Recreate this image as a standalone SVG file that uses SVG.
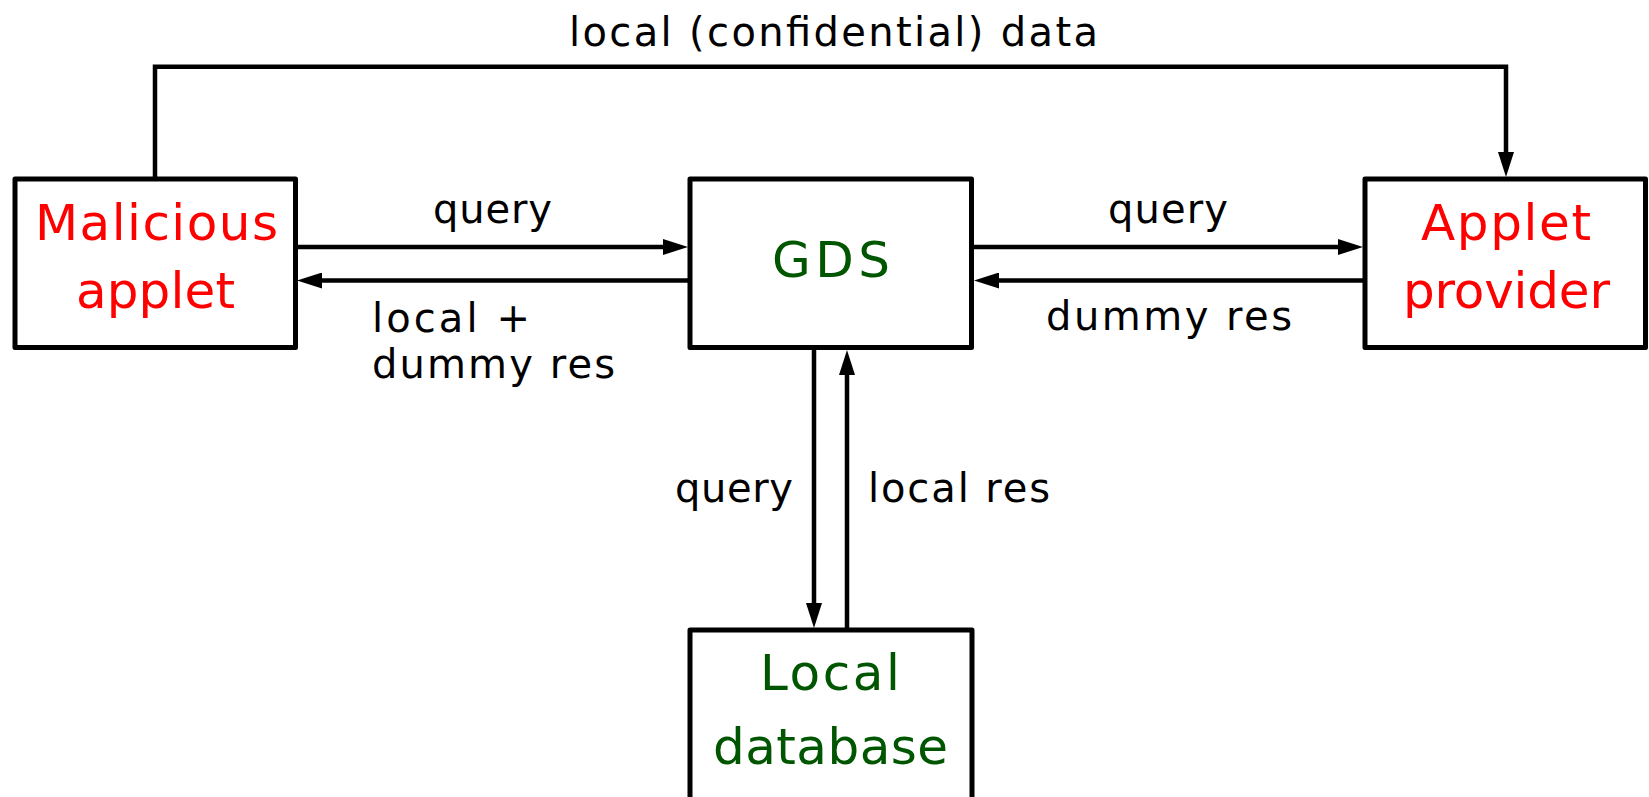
<svg xmlns="http://www.w3.org/2000/svg" width="1649" height="797" viewBox="0 0 1649 797">
  <style>
    .box { fill: #ffffff; stroke: #000000; stroke-width: 5; stroke-linejoin: round; }
    .wire { fill: none; stroke: #000000; stroke-width: 4.5; }
    .lbl { font-family: "DejaVu Sans", "Liberation Sans", sans-serif; font-size: 40px; fill: #000000; }
    .node { font-family: "DejaVu Sans", "Liberation Sans", sans-serif; font-size: 50px; }
    .red { fill: #ff0000; }
    .green { fill: #005500; }
  </style>
  <defs>
    <marker id="head" markerUnits="userSpaceOnUse" viewBox="0 0 25 16" refX="15" refY="8" markerWidth="25" markerHeight="16" orient="auto">
      <path d="M0,0 L25,8 L0,16 z" fill="#000000"/>
    </marker>
  </defs>

  <rect width="1649" height="797" fill="#ffffff"/>

  <!-- connectors -->
  <g id="connectors">
    <path class="wire" d="M155,179 V66.7 H1506 V167" marker-end="url(#head)"/>
    <path class="wire" d="M297,247 H678" marker-end="url(#head)"/>
    <path class="wire" d="M688,280.5 H307" marker-end="url(#head)"/>
    <path class="wire" d="M973,247 H1353" marker-end="url(#head)"/>
    <path class="wire" d="M1363,280.5 H984" marker-end="url(#head)"/>
    <path class="wire" d="M814,350 V618" marker-end="url(#head)"/>
    <path class="wire" d="M847,630 V360" marker-end="url(#head)"/>

    <text class="lbl" x="569" y="46" textLength="529">local (confidential) data</text>
    <text class="lbl" x="433" y="223" textLength="119">query</text>
    <text class="lbl" x="372" y="332" textLength="158">local +</text>
    <text class="lbl" x="372" y="378" textLength="243">dummy res</text>
    <text class="lbl" x="1108" y="223" textLength="120">query</text>
    <text class="lbl" x="1046" y="330" textLength="246">dummy res</text>
    <text class="lbl" x="675" y="502" textLength="118">query</text>
    <text class="lbl" x="868" y="502" textLength="182">local res</text>
  </g>

  <!-- Malicious applet -->
  <g id="malicious-applet">
    <rect class="box" x="15" y="179" width="280.5" height="168.5"/>
    <text class="node red" x="35" y="240" textLength="243">Malicious</text>
    <text class="node red" x="76" y="308" textLength="159">applet</text>
  </g>

  <!-- GDS -->
  <g id="gds">
    <rect class="box" x="690" y="179" width="281.5" height="168.5"/>
    <text class="node green" x="772" y="277" textLength="118">GDS</text>
  </g>

  <!-- Applet provider -->
  <g id="applet-provider">
    <rect class="box" x="1365" y="179" width="280.5" height="168.5"/>
    <text class="node red" x="1421" y="240" textLength="170">Applet</text>
    <text class="node red" x="1403" y="308" textLength="207">provider</text>
  </g>

  <!-- Local database -->
  <g id="local-database">
    <rect class="box" x="690" y="630" width="282" height="180"/>
    <text class="node green" x="760" y="690" textLength="140">Local</text>
    <text class="node green" x="713" y="764" textLength="235">database</text>
  </g>
</svg>
